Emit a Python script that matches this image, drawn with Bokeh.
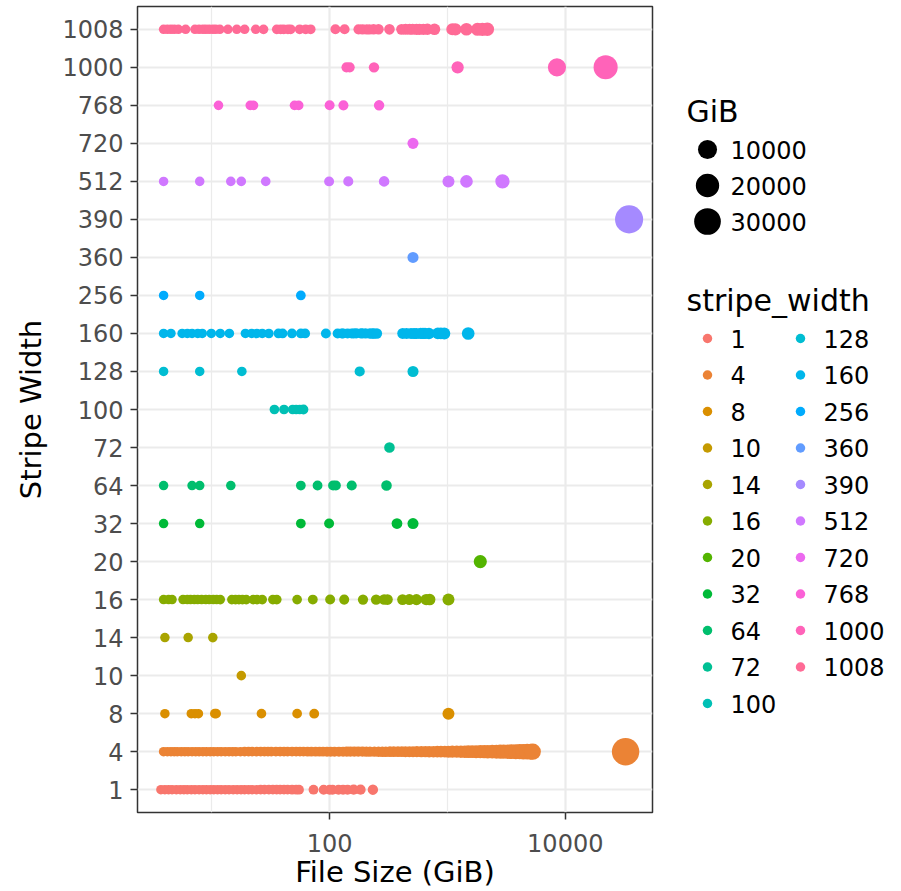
import math
from bokeh.plotting import figure
from bokeh.models import ColumnDataSource, FactorRange, Range1d, FixedTicker, NumeralTickFormatter
from bokeh.layouts import row
from bokeh.embed import file_html
from bokeh.resources import INLINE
from bokeh.core.properties import value

# ---------------- data (file sizes in GiB per stripe width) ----------------
stripe_levels = ["1", "4", "8", "10", "14", "16", "20", "32", "64", "72", "100",
                 "128", "160", "256", "360", "390", "512", "720", "768", "1000", "1008"]

gib_1 = [3.7, 4.0, 4.3, 4.6, 5.0, 5.4, 5.8, 6.2, 6.7, 7.2, 7.8, 8.4, 9.0, 9.7, 10.4,
         11.2, 12.0, 13.0, 14.0, 15.2, 16.4, 17.7, 19.0, 20.5, 22.0, 24.0, 26.0, 28.0,
         30.5, 33.0, 35.5, 38.0, 41.0, 44.0, 48.0, 52.0, 55.0, 73, 89, 100, 106, 119,
         130, 142, 160, 183, 233]
gib_4 = [3.9, 4.2, 4.5, 4.8, 5.1, 5.5, 5.9, 6.3, 6.8, 7.3, 7.8, 8.4, 9.0, 9.7, 10.4,
         11.2, 12, 13, 14, 15, 16, 17.5, 19, 20.5, 22, 24, 26, 28, 30, 32, 35, 38, 41,
         44, 48, 52, 56, 60, 65, 70, 76, 82, 88, 95, 102, 110, 120, 130, 140, 150, 162,
         175, 190, 205, 220, 240, 260, 280, 300, 325, 350, 380, 410, 440, 475, 510, 550,
         600, 650, 700, 760, 820, 880, 950, 1020, 1100, 1200, 1300, 1400, 1500, 1620,
         1750, 1900, 2050, 2200, 2400, 2600, 2800, 3000, 3250, 3500, 3800, 4100, 4400,
         4750, 5100, 5300, 32500]
gib_8 = [4.0, 6.7, 7.2, 7.7, 10.6, 10.9, 26.4, 53, 74, 1020]
gib_10 = [17.8]
gib_14 = [4.0, 6.3, 10.2]
gib_16 = [3.9, 4.3, 4.6, 5.7, 6.2, 6.6, 7.1, 7.6, 8.2, 8.9, 9.5, 10.3, 11.0, 11.8, 14.8,
          15.9, 17.0, 18.2, 19.6, 22.5, 24.2, 26.8, 33, 35.6, 53, 72, 101, 133, 192, 248,
          290, 310, 416, 475, 546, 660, 707, 1020]
gib_20 = [1900]
gib_32 = [3.9, 7.9, 57, 99, 373, 510]
gib_64 = [3.9, 6.8, 7.9, 14.5, 57, 79, 107, 113, 154, 304]
gib_72 = [322]
gib_100 = [34, 41, 48.6, 52, 55.8, 60]
gib_128 = [3.9, 7.9, 18, 180, 510]
gib_160 = [3.9, 4.5, 5.6, 6.2, 6.8, 7.6, 8.3, 9.9, 11.8, 14.1, 19.3, 21.8, 24.1, 26.8,
           30.5, 36.8, 39.9, 47.9, 57, 62, 93, 117, 127, 130, 142, 154, 160, 168, 184,
           190, 202, 219, 230, 238, 252, 417, 450, 490, 520, 546, 594, 620, 645, 697,
           829, 880, 941, 1500]
gib_256 = [3.9, 7.9, 57]
gib_360 = [510]
gib_390 = [34800]
gib_512 = [3.9, 7.9, 14.5, 17.8, 28.7, 99, 144, 290, 1020, 1450, 2930]
gib_720 = [510]
gib_768 = [11.4, 21.2, 22.6, 50.4, 54.6, 100, 131, 263]
gib_1000 = [139, 148, 238, 1220, 8500, 22000]
gib_1008 = [3.9, 4.2, 4.5, 4.8, 5.2, 6.0, 7.2, 7.8, 8.4, 8.9, 9.5, 10.2, 10.8, 11.7,
            13.7, 16.3, 19.0, 23.6, 27.5, 35.6, 38.4, 40.8, 44.3, 46.7, 55.7, 62.6, 69,
            112, 134, 176, 190, 206, 218, 236, 260, 322, 408, 441, 477, 506, 546, 579,
            625, 676, 776, 1100, 1169, 1450, 1800, 1980, 2180]

size_breaks = [10000, 20000, 30000]

gib_rows = [gib_1, gib_4, gib_8, gib_10, gib_14, gib_16, gib_20, gib_32, gib_64,
            gib_72, gib_100, gib_128, gib_160, gib_256, gib_360, gib_390, gib_512,
            gib_720, gib_768, gib_1000, gib_1008]

# ---------------- styling helpers ----------------
def hcl_hex(h, c=100.0, l=65.0):
    hr = math.radians(h)
    U, V = c * math.cos(hr), c * math.sin(hr)
    XN, YN, ZN = 95.047, 100.0, 108.883
    Y = YN * ((l + 16) / 116) ** 3
    den = XN + 15 * YN + 3 * ZN
    un, vn = 4 * XN / den, 9 * YN / den
    u, v = U / (13 * l) + un, V / (13 * l) + vn
    X = 9.0 * Y * u / (4 * v)
    Z = -X / 3 - 5 * Y + 3 * Y / v
    X, Y, Z = X / 100, Y / 100, Z / 100
    r = 3.240479 * X - 1.537150 * Y - 0.498535 * Z
    g = -0.969256 * X + 1.875992 * Y + 0.041556 * Z
    b = 0.055648 * X - 0.204043 * Y + 1.057311 * Z

    def gam(t):
        t = 1.055 * t ** (1 / 2.4) - 0.055 if t > 0.0031308 else 12.92 * t
        return int(round(255 * min(1.0, max(0.0, t))))
    return "#%02X%02X%02X" % (gam(r), gam(g), gam(b))

n = len(stripe_levels)
palette = [hcl_hex(15 + 360.0 * i / n) for i in range(n)]


def diam(v):
    return 8.5 + math.sqrt(1 + 0.011 * v)


FONT = "DejaVu Sans"

xs, ys, cs, ss = [], [], [], []
for lev, col, vals in zip(stripe_levels, palette, gib_rows):
    for v in vals:
        xs.append(v)
        ys.append(lev)
        cs.append(col)
        ss.append(diam(v))
src = ColumnDataSource(dict(gib=xs, sw=ys, color=cs, size=ss))

all_vals = [v for r in gib_rows for v in r]
lmin, lmax = math.log10(min(all_vals)), math.log10(max(all_vals))
span = lmax - lmin
x_lo, x_hi = 10 ** (lmin - 0.05 * span), 10 ** (lmax + 0.05 * span)

PT, PB = 6, 812   # frame top / bottom in page pixels
p = figure(width=665, height=891, x_axis_type="log",
           x_range=Range1d(x_lo, x_hi),
           y_range=FactorRange(factors=stripe_levels, range_padding=0.1,
                               range_padding_units="absolute", factor_padding=0),
           output_backend="svg", toolbar_location=None,
           min_border_left=137, min_border_right=13, min_border_top=PT,
           min_border_bottom=891 - PB)

p.scatter("gib", "sw", size="size", color="color", line_color=None, source=src)

tk = FixedTicker(ticks=[100, 10000], minor_ticks=[10, 1000, 100000])
p.xaxis.ticker = tk
p.xgrid.ticker = tk
p.xaxis.formatter = NumeralTickFormatter(format="0")

p.background_fill_color = "white"
p.border_fill_color = "white"
p.outline_line_color = "#333333"
p.outline_line_width = 1.5

p.xgrid.grid_line_color = "#EBEBEB"
p.xgrid.grid_line_width = 2.2
p.xgrid.minor_grid_line_color = "#EBEBEB"
p.xgrid.minor_grid_line_width = 1.2
p.ygrid.grid_line_color = "#EBEBEB"
p.ygrid.grid_line_width = 2.2

for ax in (p.xaxis[0], p.yaxis[0]):
    ax.axis_line_color = None
    ax.major_tick_line_color = "#333333"
    ax.major_tick_line_width = 1.5
    ax.major_tick_in = 0
    ax.major_tick_out = 7
    ax.minor_tick_line_color = None
    ax.major_label_text_font = FONT
    ax.major_label_text_font_size = "24px"
    ax.major_label_text_color = "#4D4D4D"
    ax.axis_label_text_font = FONT
    ax.axis_label_text_font_size = "29px"
    ax.axis_label_text_font_style = "normal"
    ax.axis_label_text_color = "black"

p.xaxis.axis_label = "File Size (GiB)"
p.yaxis.axis_label = "Stripe Width"
p.xaxis.major_label_standoff = 14
p.xaxis.axis_label_standoff = 0
p.yaxis.major_label_standoff = 7
p.yaxis.axis_label_standoff = 11

# ---------------- legend panel (frame aligned with main frame) ----------------
lg = figure(width=236, height=891, x_range=Range1d(0, 236), y_range=Range1d(PB, PT),
            output_backend="svg", toolbar_location=None,
            x_axis_location=None, y_axis_location=None, min_border=0)
lg.grid.visible = False
lg.outline_line_color = None
lg.background_fill_color = "white"
lg.border_fill_color = "white"

lg.text(x=[21], y=[111], text=["GiB"], text_font=value(FONT), text_font_size="30px",
        text_baseline="middle", text_align="left", text_color="black")
size_y = [149 + 36 * i for i in range(len(size_breaks))]
lg.scatter(x=[42] * len(size_breaks), y=size_y, size=[diam(v) for v in size_breaks],
           color="black", line_color=None)
lg.text(x=[65] * len(size_breaks), y=size_y, text=[str(v) for v in size_breaks],
        text_font=value(FONT), text_font_size="24px", text_baseline="middle",
        text_align="left", text_color="black")

lg.text(x=[21], y=[300], text=["stripe_width"], text_font=value(FONT),
        text_font_size="30px", text_baseline="middle", text_align="left",
        text_color="black")
per_col = 11
kx, ky, kt, kc = [], [], [], []
for i, (lev, col) in enumerate(zip(stripe_levels, palette)):
    c, r = divmod(i, per_col)
    kx.append(42 + 93 * c)
    ky.append(338 + 36.5 * r)
    kt.append(lev)
    kc.append(col)
lg.scatter(x=kx, y=ky, size=9.5, color=kc, line_color=None)
lg.text(x=[x + 23 for x in kx], y=ky, text=kt, text_font=value(FONT),
        text_font_size="24px", text_baseline="middle", text_align="left",
        text_color="black")

layout = row(p, lg)
open("out.html", "w").write(file_html(layout, INLINE))
